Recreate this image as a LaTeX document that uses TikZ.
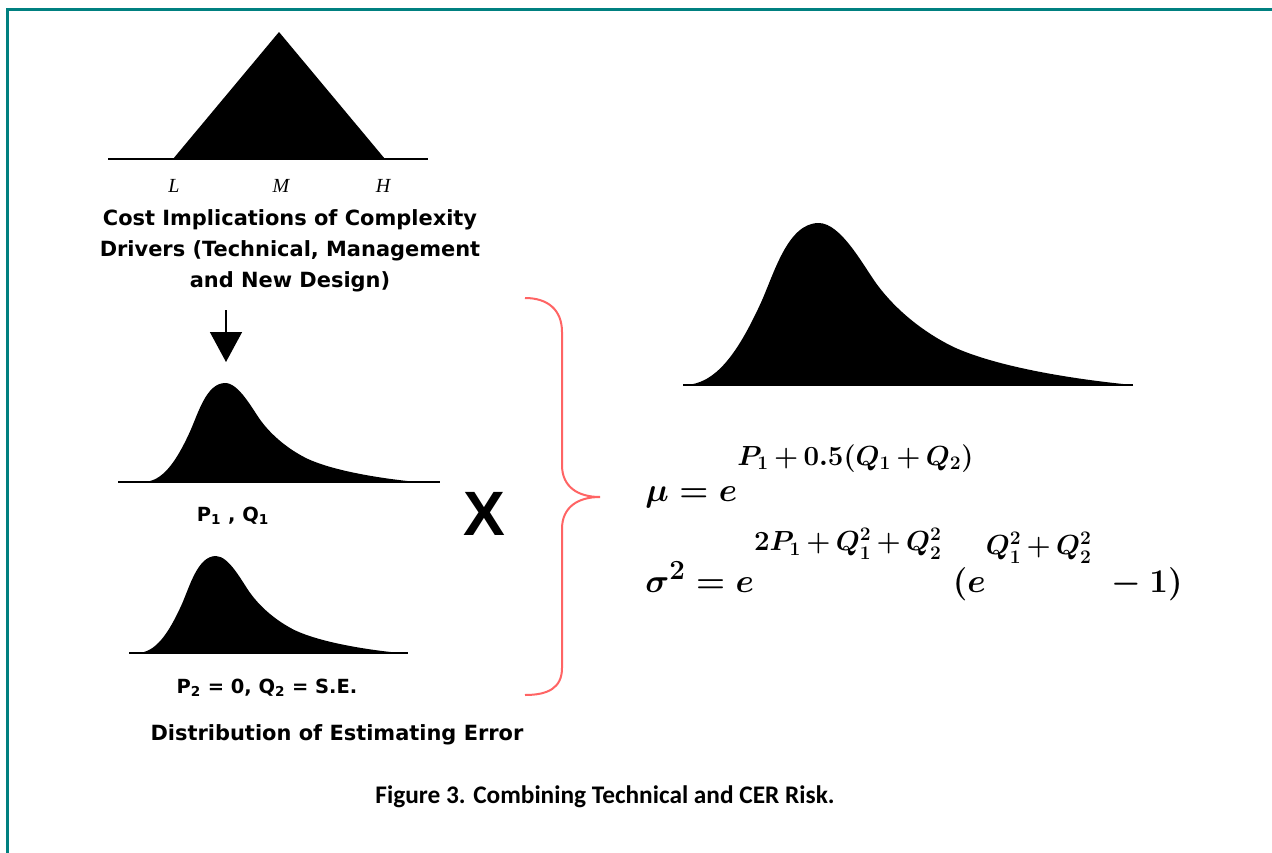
\documentclass[tikz,border=0pt]{standalone}
\usepackage{fontspec}
\usepackage{amsmath,bm}
\usetikzlibrary{arrows.meta}
\newfontfamily\lblfont{DejaVu Sans}
\newfontfamily\capfont{Carlito}
\newfontfamily\xfont{Liberation Sans}
\newfontfamily\lmhfont{Liberation Serif}
\definecolor{frameteal}{RGB}{0,128,128}
\definecolor{bracered}{RGB}{255,100,100}
\DeclareMathSizes{31}{31}{20}{15}
\newcommand{\lognormfill}{%
  \fill (0,0) .. controls (0.07,0) and (0.12,0.2) .. (0.17,0.5)
    .. controls (0.2,0.68) and (0.23,1) .. (0.3,1)
    .. controls (0.35,1) and (0.40,0.733) .. (0.43,0.62)
    .. controls (0.47,0.47) and (0.53,0.33) .. (0.6,0.235)
    .. controls (0.69,0.12) and (0.85,0.04) .. (1,0) -- cycle;}
\newcommand{\supstrut}[1]{\rule[-#1]{0pt}{#1}}
\newcommand{\splus}{\,{+}\,}
\tikzset{
  lbl/.style={font=\lblfont\bfseries\fontsize{15.7}{22.9}\selectfont, align=center, inner sep=0pt},
  lblsmall/.style={font=\lblfont\bfseries\fontsize{14.6}{22.9}\selectfont, inner sep=0pt},
  lmh/.style={font=\lmhfont\itshape\fontsize{15}{18}\selectfont, inner sep=0pt, anchor=base},
  eq/.style={font=\fontsize{31}{36}\selectfont\boldmath, inner sep=0pt, anchor=base west},
  baseln/.style={line width=1.9pt, line cap=butt}
}
\begin{document}
\begin{tikzpicture}[x=0.75pt, y=-0.75pt]
\useasboundingbox[fill=white] (0,0) rectangle (1272,853);
% frame
\draw[frameteal, line width=2.25pt, line cap=butt] (7.5,853) -- (7.5,9.5) -- (1272,9.5);

% triangle distribution
\fill (173,159) -- (279,32) -- (385,159) -- cycle;
\draw[baseln] (108,159) -- (428,159);
\node[lmh] (L) at (174,192) {L};
\node[lmh] (M) at (281,192) {M};
\node[lmh] (H) at (383,192) {H};
\node[lbl, anchor=base] (cost) at (290,287) {Cost Implications of Complexity\\Drivers (Technical, Management\\and New Design)};

% arrow
\coordinate (arrtop) at (226,310);
\coordinate (arrtip) at (226,362);
\draw[line width=1.1pt, -{Triangle[width=24pt,length=22.5pt]}] (arrtop) -- (arrtip);

% curve 1
\begin{scope}[shift={(143,482)}, xscale=274, yscale=-99]
  \lognormfill
\end{scope}
\draw[baseln] (118,482) -- (440,482);
\node[lblsmall, anchor=base] (pq1) at (233,521) {P\textsubscript{1} , Q\textsubscript{1}};

% curve 2
\begin{scope}[shift={(137,653)}, xscale=263, yscale=-97]
  \lognormfill
\end{scope}
\draw[baseln] (129,653) -- (408,653);
\node[lblsmall, anchor=base] (pq2) at (267,693) {P\textsubscript{2} = 0, Q\textsubscript{2} = S.E.};
\node[lbl, anchor=base] (dist) at (337,740) {Distribution of Estimating Error};

% times sign
\node[font=\xfont\bfseries\fontsize{47}{50}\selectfont, inner sep=0pt] (times) at (484,514) {X};

% brace
\draw[bracered, line width=1.5pt] (525,298) .. controls (548,298) and (562,310) .. (562,332) -- (562,465) .. controls (562,487) and (578,497) .. (600,497) .. controls (578,497) and (562,507) .. (562,529) -- (562,668) .. controls (562,688) and (548,695) .. (525,695);

% big curve
\begin{scope}[shift={(684,385)}, xscale=449, yscale=-162]
  \lognormfill
\end{scope}
\draw[baseln] (683,385) -- (1133,385);

% equations
\node[eq] (mu) at (645,501) {$\mu = e^{\supstrut{24pt}P_1\splus0.5(Q_1\splus Q_2)}$};
\node[eq] (sig) at (645,592) {$\sigma^2 = e^{\supstrut{28pt}2P_1\splus Q_1^2\splus Q_2^2}\;(e^{\supstrut{25pt}Q_1^2\splus Q_2^2}\;-1)$};

% caption
\node[font=\capfont\bfseries\fontsize{19}{22}\selectfont, inner sep=0pt, anchor=base] (cap) at (605,803) {Figure 3. Combining Technical and CER Risk.};
\end{tikzpicture}
\end{document}
